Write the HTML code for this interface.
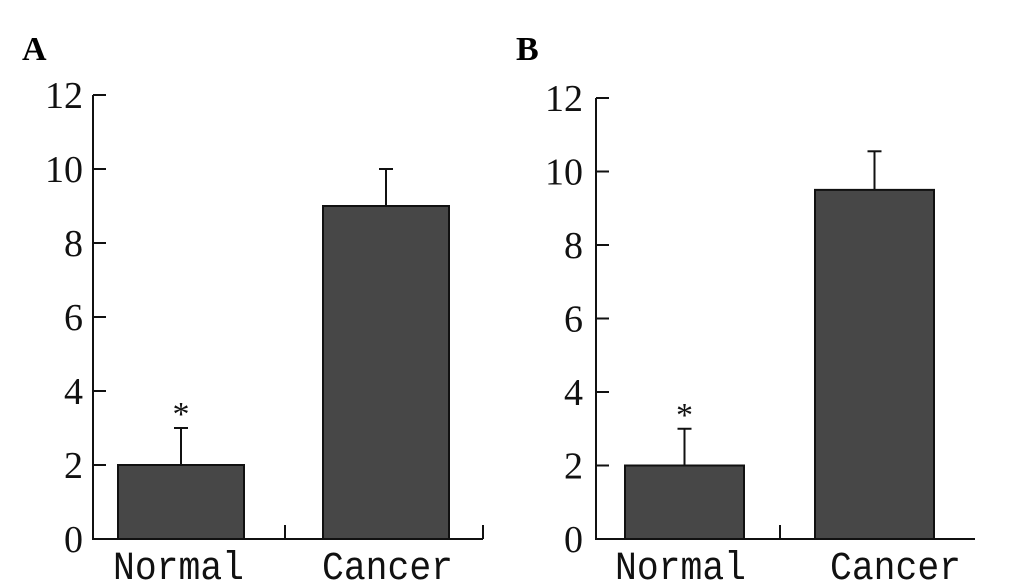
<!DOCTYPE html>
<html><head><meta charset="utf-8"><style>
html,body{margin:0;padding:0;background:#fff;}
svg{display:block;}
.tick{font-family:"Liberation Serif",serif;font-size:38px;fill:#111;}
.cat{font-family:"Liberation Mono",monospace;font-size:40px;fill:#111;}
.panel{font-family:"Liberation Serif",serif;font-size:34px;font-weight:bold;fill:#000;}
</style></head><body>
<svg id="chart" width="1033" height="588" viewBox="0 0 1033 588">
<rect width="1033" height="588" fill="#fff"/>
</svg>
<script>
const categories = ["Normal", "Cancer"];
const valuesA = [2, 9];
const errorsA = [1, 1];
const valuesB = [2, 9.5];
const errorsB = [1, 1.05];
const tickLabels = [0, 2, 4, 6, 8, 10, 12];
const starFlags = [true, false];

const NS = "http://www.w3.org/2000/svg";
const svg = document.getElementById("chart");
function mk(tag, attrs, parent) {
  const e = document.createElementNS(NS, tag);
  for (const k in attrs) e.setAttribute(k, attrs[k]);
  (parent || svg).appendChild(e);
  return e;
}
function drawPanel(cfg, values, errors) {
  const g = mk("g", {});
  
  
  const y = v => cfg.y0 - (v / 12) * (cfg.y0 - cfg.y12);
  const L = mk("text", {x: cfg.labelX, y: cfg.labelY, class: "panel"}, g);
  L.textContent = cfg.letter;
  
  
  const ax = mk("line", {x1: cfg.ax, y1: y(12), x2: cfg.ax, y2: cfg.y0 + 1, stroke: "#111", "stroke-width": 2}, g);
  
  
  const xa = mk("line", {x1: cfg.ax - 1, y1: cfg.y0, x2: cfg.xEnd, y2: cfg.y0, stroke: "#111", "stroke-width": 2}, g);
  
  
  const mt = mk("line", {x1: cfg.mid, y1: cfg.y0, x2: cfg.mid, y2: cfg.y0 - 14, stroke: "#111", "stroke-width": 2}, g);
  
  
  if (cfg.endTick) {
    const et = mk("line", {x1: cfg.xEnd, y1: cfg.y0, x2: cfg.xEnd, y2: cfg.y0 - 14, stroke: "#111", "stroke-width": 2}, g);
    
    
  }
  tickLabels.forEach(t => {
    const tl = mk("line", {x1: cfg.ax, y1: y(t), x2: cfg.ax + 13, y2: y(t), stroke: "#111", "stroke-width": 2}, g);
    
    
    const tx = mk("text", {x: cfg.tickRight, y: y(t) + 13, "text-anchor": "end", class: "tick"}, g);
    tx.textContent = t;
    
    
  });
  categories.forEach((c, i) => {
    const x0 = cfg.barX[i], w = cfg.barW;
    const cx = x0 + w / 2;
    const top = y(values[i] + errors[i]);
    const el = mk("line", {x1: cx, y1: top, x2: cx, y2: y(values[i]), stroke: "#111", "stroke-width": 2}, g);
    
    
    const cap = mk("line", {x1: cx - 7, y1: top, x2: cx + 7, y2: top, stroke: "#111", "stroke-width": 2}, g);
    
    
    const b = mk("rect", {x: x0, y: y(values[i]), width: w, height: cfg.y0 - y(values[i]), fill: "#474747", stroke: "#111", "stroke-width": 2}, g);
    
    
    if (starFlags[i]) {
      const s = mk("text", {x: cx, y: top - 3, "text-anchor": "middle", class: "tick", style: "font-size:34px"}, g);
      s.textContent = "*";
      
      
    }
    const ct = mk("text", {x: cfg.catX[i], y: 579, class: "cat", textLength: 131, lengthAdjust: "spacingAndGlyphs"}, g);
    ct.textContent = c;
    
    
  });
}
drawPanel({name: "panel-a", letter: "A", labelX: 22, labelY: 60, ax: 93, y0: 539, y12: 95, xEnd: 483, mid: 285, endTick: true,
  tickRight: 83, barX: [118, 323], barW: 126, catX: [113, 322]}, valuesA, errorsA);
drawPanel({name: "panel-b", letter: "B", labelX: 516, labelY: 60, ax: 596, y0: 539, y12: 98, xEnd: 975, mid: 780, endTick: false,
  tickRight: 583, barX: [625, 815], barW: 119, catX: [615, 830]}, valuesB, errorsB);
</script>
</body></html>
